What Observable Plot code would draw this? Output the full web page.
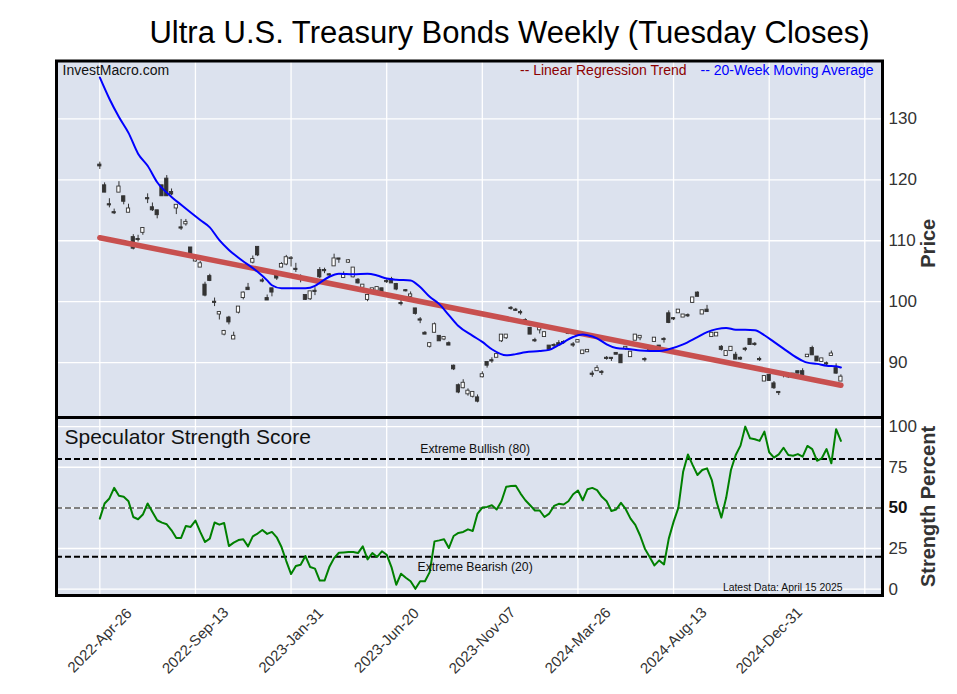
<!DOCTYPE html>
<html><head><meta charset="utf-8">
<script src="https://cdn.jsdelivr.net/npm/d3@7"></script>
<script src="https://cdn.jsdelivr.net/npm/@observablehq/plot@0.6"></script>
<style>
body{margin:0;background:#fff;}
#wrap{position:relative;width:957px;height:694px;font-family:"Liberation Sans",Arial,sans-serif;}
#wrap svg{position:absolute;left:0;top:0;overflow:visible;}
</style></head><body><div id="wrap"></div>
<script>
// ---- data (week index 0 = 2022-Apr-26, weekly Tuesday closes) ----
const opens = [122.5,119.1,116.0,114.7,117.9,117.3,114.6,110.6,110.3,111.3,117.0,115.5,115.0,119.1,120.2,118.0,115.3,112.2,112.7,108.9,
106.6,105.6,102.8,104.2,100.0,97.9,94.6,97.4,93.8,98.2,100.6,102.3,106.4,109.0,103.5,100.6,102.2,104.4,105.6,106.1,
107.0,105.4,103.8,101.1,100.4,101.8,105.2,105.2,104.5,105.8,107.1,103.9,106.4,104.0,103.6,102.3,100.3,101.7,101.8,102.2,
103.4,103.7,102.9,99.8,101.9,100.8,98.9,97.1,94.9,92.6,94.9,94.4,93.8,93.2,89.5,86.3,85.8,84.8,84.4,84.3,
87.6,90.1,90.4,90.8,93.5,94.0,99.0,98.7,98.3,97.0,95.7,93.7,95.3,94.2,92.8,92.9,93.2,93.4,94.7,93.0,
93.3,91.4,91.7,88.2,88.6,88.5,90.8,90.8,91.6,91.3,92.3,90.9,93.6,94.0,90.6,92.1,93.4,92.8,93.9,98.1,
97.3,98.1,97.4,97.8,99.8,101.5,97.9,98.7,94.2,94.3,92.6,91.1,91.9,91.3,90.8,92.3,93.9,93.1,90.6,86.9,
88.0,86.6,85.2,88.0,87.8,87.6,88.6,88.6,90.9,92.4,91.0,90.1,89.9,91.1,89.1,86.9];
const closes = [122.2,117.9,115.8,114.5,118.9,116.4,115.3,108.7,110.1,112.1,116.8,115.0,114.2,117.3,117.3,117.6,115.9,112.0,113.1,107.7,
107.2,106.3,101.0,103.4,99.8,98.3,95.2,96.6,94.4,99.2,101.5,101.9,107.0,107.6,103.3,100.2,101.5,103.8,106.2,107.3,
107.2,105.2,103.6,100.3,101.7,101.6,104.0,105.0,104.3,107.1,106.9,104.4,106.8,105.6,103.0,102.8,101.1,102.2,102.4,101.6,
103.2,103.0,102.0,99.6,101.7,101.2,98.0,96.9,94.6,93.2,96.3,93.5,94.2,92.8,88.9,85.1,86.7,85.4,85.2,83.6,
88.1,89.5,90.2,91.4,94.6,94.6,98.8,98.5,98.1,96.8,94.6,93.5,95.8,95.0,92.1,92.7,92.8,93.2,95.1,92.8,
93.7,92.0,92.1,88.0,89.1,88.3,90.6,90.6,91.3,89.9,92.6,91.8,94.6,94.4,90.4,91.9,94.1,92.5,93.7,96.5,
97.1,98.7,97.9,97.6,100.7,100.8,98.6,98.3,94.9,94.9,92.1,91.9,92.6,90.5,90.5,92.1,92.9,92.9,90.4,87.8,
87.0,85.8,85.0,87.8,87.6,88.2,88.2,87.9,91.3,91.2,90.2,90.7,89.7,91.5,88.2,87.7];
const highs = [122.9,119.5,116.9,115.2,119.7,117.3,116.0,111.0,110.9,112.1,117.7,116.2,115.0,119.1,120.7,118.5,115.9,113.5,113.5,108.9,
107.5,106.6,103.2,104.5,100.6,98.4,95.3,97.6,95.0,99.2,101.6,103.0,107.5,109.0,103.8,101.1,102.2,104.6,106.4,107.6,
107.4,106.3,104.4,101.1,101.7,102.3,105.6,105.5,104.6,107.8,107.1,104.9,106.9,105.6,103.8,102.8,101.1,102.2,102.4,102.2,
103.6,104.0,103.0,100.2,102.0,101.6,98.9,97.4,95.1,93.2,96.5,94.4,94.3,93.4,89.6,86.5,87.2,85.7,85.2,84.7,
88.5,90.1,90.8,91.4,94.6,94.6,99.2,98.9,98.6,97.2,95.8,94.0,95.9,95.0,92.8,93.1,93.6,93.6,95.2,93.3,
93.7,92.0,92.1,88.6,89.5,88.7,91.0,90.8,91.6,91.3,92.6,91.8,94.6,94.4,90.8,92.3,94.1,92.8,94.1,98.5,
97.4,98.7,97.9,98.0,100.7,101.6,98.6,99.4,94.9,94.9,92.8,91.9,92.6,91.7,90.9,92.5,93.9,93.3,90.9,87.8,
88.1,86.9,85.2,88.1,88.0,88.2,88.6,89.0,91.3,92.7,91.0,90.7,90.1,91.9,89.8,88.0];
const lows = [121.7,117.9,115.4,114.3,117.9,115.9,114.6,108.5,109.8,110.9,116.1,114.8,113.6,117.3,117.3,117.4,114.3,111.7,112.4,107.5,
106.5,105.6,100.8,103.3,99.2,97.0,94.4,96.2,93.8,98.0,100.3,101.9,106.2,107.4,103.1,100.2,100.8,103.5,105.6,105.9,
105.7,104.8,103.1,100.2,100.2,101.0,103.8,104.6,103.9,105.8,106.3,103.8,106.3,103.9,102.9,102.3,100.0,101.6,101.8,101.6,
103.0,103.0,101.8,99.3,101.6,100.7,97.8,96.4,94.6,92.4,94.9,93.5,93.6,92.8,88.7,84.9,85.7,84.5,84.2,83.4,
87.5,89.1,89.9,90.8,93.3,93.8,98.6,98.4,97.8,96.6,94.6,93.3,94.7,94.2,92.1,92.4,92.7,93.0,94.6,92.5,
93.3,91.4,91.7,87.6,88.6,87.9,90.4,90.2,91.3,89.9,92.0,90.9,93.6,93.6,90.1,91.7,93.4,92.5,93.2,96.4,
96.9,98.1,97.4,97.4,99.8,100.8,97.9,98.3,94.2,94.3,91.9,91.1,91.9,90.5,90.4,91.8,92.9,92.7,90.2,86.9,
86.9,85.6,84.6,87.5,87.4,87.6,88.2,87.9,90.9,91.2,90.2,90.1,89.5,91.1,88.1,86.9];

// 20-week moving average (at these weeks)
const maWeeks = [0,2,4,6,8,10,12,15,17,21,23,25,27,29,33,35,36,38,40,43,45,46,48,50,53,56,58,60,62,65,67,69,71,73,75,78,80,82,85,87,89,92,94,96,99,101,102,104,106,108,111,113,117,119,122,125,127,129,131,133,135,137,139,141,143,145,147,148,150,152,154,155];
const maValues = [136.8,133.3,130.3,127.7,124.3,122.3,119.6,117.2,115.9,113.4,112.2,110.1,108.5,107.2,104.9,103.5,102.7,102.2,102.2,102.2,102.6,103.1,104.1,104.6,104.5,104.6,104.3,103.8,103.6,103.5,102.4,100.8,99.6,97.8,96.0,94.4,93.4,92.2,91.2,91.4,91.7,91.9,92.1,92.9,94.2,94.6,94.5,94.0,93.0,92.4,92.2,92.0,91.9,92.2,93.0,94.2,95.0,95.5,95.7,95.4,95.4,95.3,94.5,93.4,92.3,91.2,90.3,90.0,89.8,89.5,89.4,89.2];

// linear regression trend endpoints
const trendWeeks = [0,155];
const trendValues = [110.5,86.3];

// speculator strength score (0-100)
const strength = [43.4,52.7,55.8,62.3,57.4,56.8,54.1,44.4,43.0,45.9,52.7,47.5,42.4,40.9,39.9,36.2,31.5,31.5,38.9,38.3,
42.2,35.2,29.0,31.1,41.0,39.7,40.7,26.5,28.6,30.2,30.7,26.3,32.5,34.2,36.4,34.0,35.2,31.9,25.9,17.3,
9.3,14.2,15.0,20.4,13.6,12.6,5.3,5.3,13.6,19.1,22.4,22.6,22.8,22.8,22.2,26.3,18.3,22.2,19.8,23.3,
21.2,13.6,2.7,9.5,7.0,4.9,0.2,4.9,4.9,10.5,29.4,30.0,30.7,25.3,32.7,34.6,35.2,36.8,35.8,46.5,
50.2,50.6,51.6,49.0,54.1,63.0,63.4,63.6,58.8,54.7,51.6,48.4,48.4,44.4,46.5,51.2,52.5,52.1,54.1,58.4,
60.7,54.7,61.5,62.3,60.9,56.8,54.1,48.1,49.0,53.1,49.2,43.4,39.5,33.0,24.9,19.8,14.6,17.7,15.2,31.1,
41.4,50.0,72.2,82.9,76.3,70.2,73.3,74.3,67.1,53.7,44.0,56.2,73.3,82.5,88.3,100.0,92.8,92.2,91.2,96.9,
84.2,80.9,82.9,87.0,82.5,82.1,83.1,81.5,88.1,86.2,79.0,80.5,86.2,77.4,98.4,91.2];

const tickWeeks = [0,20,40,60,80,100,120,140];
const tickLabels = ["2022-Apr-26","2022-Sep-13","2023-Jan-31","2023-Jun-20","2023-Nov-07","2024-Mar-26","2024-Aug-13","2024-Dec-31"];
const gridWeeks = [0,20,40,60,80,100,120,140,160];
const priceTicks = [90,100,110,120,130];
const strengthTicks = [0,25,50,75,100];
const bullLevel = 80, midLevel = 50, bearLevel = 20;

// ---- build ----
const candles = opens.map((o,i)=>({i, open:o, close:closes[i], high:highs[i], low:lows[i]}));
const ma = maWeeks.map((w,k)=>({w, v:maValues[k]}));
const trend = trendWeeks.map((w,k)=>({w, v:trendValues[k]}));
const ss = strength.map((v,i)=>({i, v}));
const labels = tickWeeks.map((w,k)=>({w, t:tickLabels[k]}));

const BG = "#dce2ee";
const FONT = "Liberation Sans, Arial, sans-serif";
const xOpt = {domain:[-9.06,163.7], axis:null};
const common = {width:957, marginLeft:56, marginRight:75, style:{background:"transparent", fontFamily:FONT, overflow:"visible"}};
const mid = {lineAnchor:"middle"};

const upper = Plot.plot({
  ...common, height:420, marginTop:60.5, marginBottom:3,
  x:xOpt, y:{domain:[81.0,139.5], axis:null},
  marks:[
    Plot.frame({fill:BG}),
    Plot.gridX(gridWeeks,{stroke:"white", strokeOpacity:1, strokeWidth:1.3}),
    Plot.gridY(priceTicks,{stroke:"white", strokeOpacity:1, strokeWidth:1.3}),
    Plot.ruleX(candles,{x:"i", y1:"low", y2:"high", stroke:"#333", strokeWidth:1}),
    Plot.rect(candles.filter(d=>d.close>=d.open),{x1:d=>d.i-0.34, x2:d=>d.i+0.34, y1:"open", y2:"close", fill:"white", stroke:"#333", strokeWidth:0.9}),
    Plot.rect(candles.filter(d=>d.close<d.open),{x1:d=>d.i-0.34, x2:d=>d.i+0.34, y1:"open", y2:"close", fill:"#333", stroke:"#333", strokeWidth:0.9}),
    Plot.line(trend,{x:"w", y:"v", stroke:"#c8504f", strokeWidth:5.5}),
    Plot.line(ma,{x:"w", y:"v", stroke:"#0000ff", strokeWidth:2, curve:"monotone-x"}),
    Plot.frame({stroke:"black", strokeWidth:3}),
    Plot.text(priceTicks,{y:d=>d, frameAnchor:"right", dx:6, textAnchor:"start", ...mid, fontSize:17, fill:"#333"}),
    Plot.text(["Price"],{frameAnchor:"right", dx:46, dy:4, rotate:-90, textAnchor:"middle", ...mid, fontSize:20, fontWeight:"bold", fill:"#333"}),
    Plot.text(["Ultra U.S. Treasury Bonds Weekly (Tuesday Closes)"],{frameAnchor:"top", dx:40, dy:-28, textAnchor:"middle", ...mid, fontSize:31, fill:"#000"}),
    Plot.text(["InvestMacro.com"],{frameAnchor:"top-left", dx:6, dy:10, textAnchor:"start", ...mid, fontSize:14, fill:"#111"}),
    Plot.text(["-- 20-Week Moving Average"],{frameAnchor:"top-right", dx:-9, dy:10, textAnchor:"end", ...mid, fontSize:14, fill:"#0000ff"}),
    Plot.text(["-- Linear Regression Trend"],{frameAnchor:"top-right", dx:-196, dy:10, textAnchor:"end", ...mid, fontSize:14, fill:"#8b0000"})
  ]
});

const lower = Plot.plot({
  ...common, height:694, marginTop:417, marginBottom:99,
  x:xOpt, y:{domain:[-3.9,105.6], axis:null},
  marks:[
    Plot.frame({fill:BG}),
    Plot.gridX(gridWeeks,{stroke:"white", strokeOpacity:1, strokeWidth:1.3}),
    Plot.gridY(strengthTicks,{stroke:"white", strokeOpacity:1, strokeWidth:1.3}),
    Plot.ruleY([bullLevel, bearLevel],{stroke:"black", strokeWidth:2, strokeDasharray:"6,3"}),
    Plot.ruleY([midLevel],{stroke:"#808080", strokeWidth:2, strokeDasharray:"6,3"}),
    Plot.line(ss,{x:"i", y:"v", stroke:"#008000", strokeWidth:2}),
    Plot.frame({stroke:"black", strokeWidth:3}),
    Plot.text(strengthTicks.filter(d=>d!==midLevel),{y:d=>d, frameAnchor:"right", dx:6, textAnchor:"start", ...mid, fontSize:17, fill:"#333"}),
    Plot.text([midLevel],{y:d=>d, frameAnchor:"right", dx:6, textAnchor:"start", ...mid, fontSize:17, fontWeight:"bold", fill:"#111"}),
    Plot.text(["Strength Percent"],{frameAnchor:"right", dx:46, dy:0, rotate:-90, textAnchor:"middle", ...mid, fontSize:20, fontWeight:"bold", fill:"#333"}),
    Plot.text(["Speculator Strength Score"],{frameAnchor:"top-left", dx:8, dy:20, textAnchor:"start", ...mid, fontSize:21, fill:"#111"}),
    Plot.text(["Extreme Bullish (80)"],{x:()=>78.5, y:()=>bullLevel, dy:-10, ...mid, fontSize:12.2, fill:"#111"}),
    Plot.text(["Extreme Bearish (20)"],{x:()=>78.5, y:()=>bearLevel, dy:10, ...mid, fontSize:12.2, fill:"#111"}),
    Plot.text(["Latest Data: April 15 2025"],{frameAnchor:"bottom-right", dx:-40, dy:-8, textAnchor:"end", ...mid, fontSize:10.4, fill:"#111"}),
    Plot.text(labels,{x:"w", text:"t", frameAnchor:"bottom", dy:45, rotate:-45, textAnchor:"middle", ...mid, fontSize:15, fill:"#333"})
  ]
});

const wrap = document.getElementById("wrap");
wrap.appendChild(upper);
wrap.appendChild(lower);
</script></body></html>
